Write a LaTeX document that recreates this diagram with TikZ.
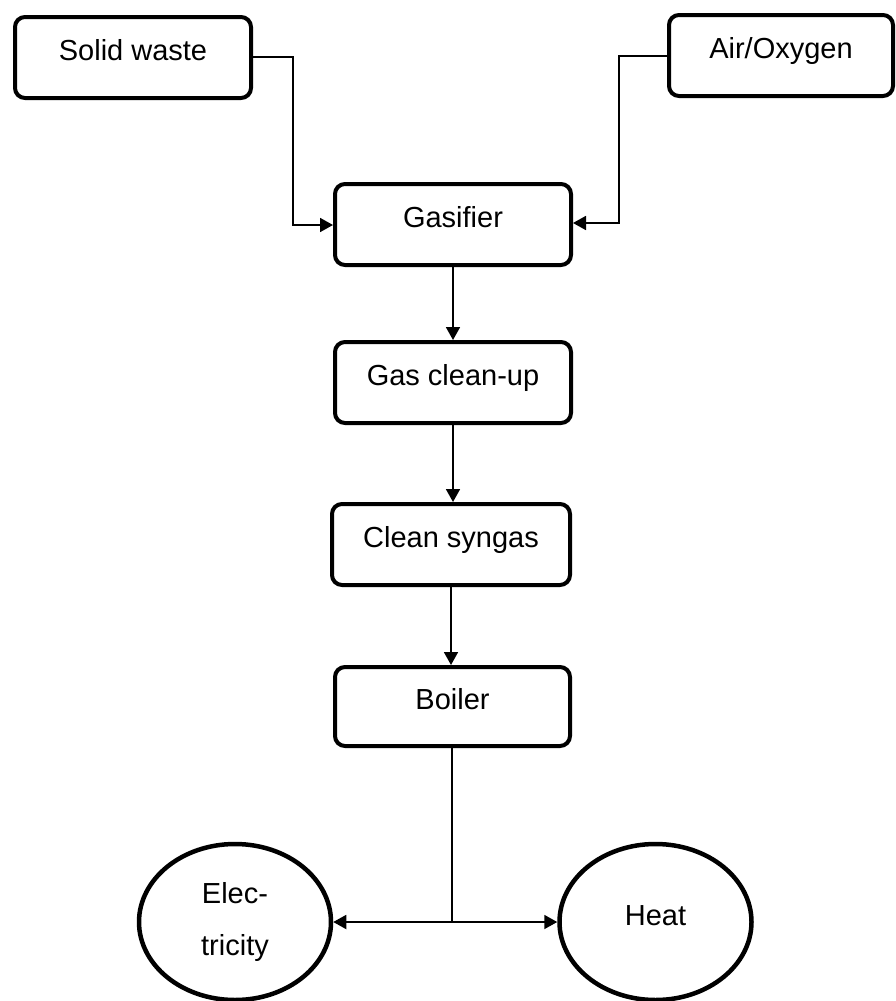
\documentclass[tikz,border=0pt]{standalone}
\usepackage{fontspec}
\setmainfont{Liberation Sans}
\usetikzlibrary{arrows.meta,shapes.geometric}
\begin{document}
\begin{tikzpicture}[x=1pt,y=-1pt,
  lbl/.style={font=\fontsize{29}{34}\selectfont},
  procbox/.style={draw, line width=4pt, rounded corners=10pt, inner sep=0pt,
    lbl, text height=20.5pt, text depth=14pt},
  oval/.style={draw, ellipse, line width=4.5pt, inner sep=0pt,
    minimum width=192pt, minimum height=156pt},
  conn/.style={line width=1.8pt},
  arr/.style={conn, -{Triangle[length=13pt,width=14pt]}}
]
\useasboundingbox (0,0) rectangle (896,1001);
\node[procbox, minimum width=236pt, minimum height=81pt] (solid) at (133,57.5) {Solid waste};
\node[procbox, minimum width=224pt, minimum height=81pt] (air) at (781,55.5) {Air/Oxygen};
\node[procbox, minimum width=236pt, minimum height=81pt] (gas) at (453,224.5) {Gasifier};
\node[procbox, minimum width=236pt, minimum height=81pt] (clean) at (453,382.5) {Gas clean-up};
\node[procbox, minimum width=238pt, minimum height=81pt] (syn) at (451,544.5) {Clean syngas};
\node[procbox, minimum width=235pt, minimum height=79pt] (boil) at (452.5,706.5) {Boiler};
\node[oval, align=center, font=\fontsize{29}{52}\selectfont] (elec) at (235,922) {Elec-\\tricity};
\node[oval, lbl, text height=20.5pt, text depth=14pt] (heat) at (655.5,922) {Heat};
\coordinate (j) at (452,922);
\draw[arr] (solid.east |- 0,57) -- (293,57) -- (293,225) -- (gas.west |- 0,225);
\draw[arr] (air.west |- 0,56) -- (619,56) -- (619,223) -- (gas.east |- 0,223);
\draw[arr] (gas.south) -- (clean.north);
\draw[arr] (clean.south) -- (clean.south |- syn.north);
\draw[arr] (syn.south) -- (syn.south |- boil.north);
\draw[conn] (boil.south -| j) -- (j);
\draw[arr] (j) -- (elec.east);
\draw[arr] (j) -- (heat.west);
\end{tikzpicture}
\end{document}
